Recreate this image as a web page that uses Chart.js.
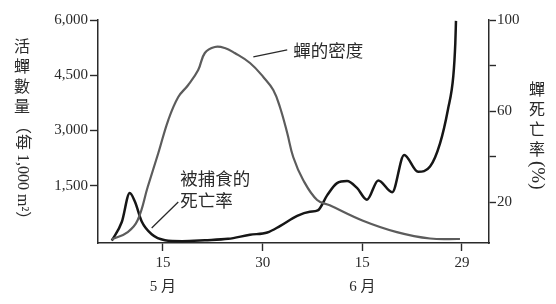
<!DOCTYPE html>
<html>
<head>
<meta charset="utf-8">
<script src="https://cdn.jsdelivr.net/npm/chart.js@4"></script>
<style>
  html, body { margin: 0; padding: 0; background: #fff; }
  canvas { display: block; }
</style>
</head>
<body>
<canvas id="chart" width="556" height="304"></canvas>
<script>
// x = day position (15 = 5/15, 30 = 5/30, 45 = 6/15, 60 = 6/29)
const densityDays = [7.3, 9.7, 11.2, 12.7, 14.3, 15.8, 17.3, 18.8, 20.3, 21.3, 22.8, 24.3, 25.8, 28.1, 30.1, 31.6, 32.6, 33.7, 34.6, 36.1, 38.2, 40.1, 45.1, 50.2, 55.2, 59.7];
const densityValues = [40, 244, 570, 1466, 2389, 3285, 3910, 4235, 4643, 5104, 5267, 5240, 5104, 4833, 4453, 4100, 3638, 2932, 2281, 1656, 1113, 969, 551, 242, 68, 54];

const mortalityDays = [7.3, 8.8, 10.0, 10.8, 11.8, 13.3, 15.3, 17.9, 21.3, 24.8, 28.1, 30.7, 32.6, 35.2, 37.1, 38.3, 39.7, 41.2, 42.7, 44.2, 45.7, 47.4, 49.5, 51.3, 53.4, 55.2, 56.7, 57.9, 58.7, 59.0, 59.1];
const mortalityValues = [3.0, 11.2, 24.0, 20.0, 11.4, 5.8, 3.2, 2.8, 3.2, 3.8, 5.6, 6.6, 9.4, 13.9, 15.7, 16.3, 22.9, 28.3, 29.2, 26.2, 21.0, 29.5, 24.3, 40.7, 33.3, 35.6, 45.8, 60.8, 75.4, 89.9, 99.6];

const xTickValues = [15, 30, 45, 60];
const xTickLabels = [["15", "5 月"], "30", ["15", "6 月"], "29"];
const leftTickValues = [1500, 3000, 4500, 6000];
const rightTickValues = [20, 40, 60, 80, 100];
const rightLabelled = [20, 60, 100];

const leftTitleUpright = ["活", "蟬", "數", "量"];
const leftTitleRotated = "（每 1,000 m²）";
const rightTitleUpright = ["蟬", "死", "亡", "率"];
const rightTitleRotated = "(%)";

const inkColor = "#2a2a2a";
const serif = "'Liberation Serif', 'Noto Sans CJK TC', serif";
const cjk = "'Noto Sans CJK TC', 'Liberation Serif', sans-serif";

const titlesPlugin = {
    id: "titles",
    afterDraw(chart) {
        const ctx = chart.ctx;
        const xs = chart.scales.x, yl = chart.scales.yLeft, yr = chart.scales.yRight;
        ctx.save();
        ctx.fillStyle = inkColor;
        ctx.textAlign = "center";
        ctx.textBaseline = "middle";

        // left axis title
        ctx.font = "16px " + cjk;
        leftTitleUpright.forEach((ch, i) => ctx.fillText(ch, 22, 46 + i * 20));
        ctx.save();
        ctx.translate(22, 118);
        ctx.rotate(Math.PI / 2);
        ctx.textAlign = "left";
        ctx.font = "16px " + serif;
        ctx.fillText(leftTitleRotated, 0, 0);
        ctx.restore();

        // right axis title
        ctx.font = "16px " + cjk;
        rightTitleUpright.forEach((ch, i) => ctx.fillText(ch, 537, 89 + i * 20));
        ctx.save();
        ctx.translate(537, 161);
        ctx.rotate(Math.PI / 2);
        ctx.textAlign = "left";
        ctx.font = "19px " + serif;
        ctx.fillText(rightTitleRotated, 0, 0);
        ctx.restore();

        // curve labels with leader lines (in data coordinates)
        ctx.strokeStyle = inkColor;
        ctx.lineWidth = 1.3;
        ctx.beginPath();
        ctx.moveTo(xs.getPixelForValue(28.6), yl.getPixelForValue(4996));
        ctx.lineTo(xs.getPixelForValue(33.7), yl.getPixelForValue(5186));
        ctx.moveTo(xs.getPixelForValue(13.3), yr.getPixelForValue(8.6));
        ctx.lineTo(xs.getPixelForValue(17.3), yr.getPixelForValue(20.0));
        ctx.stroke();

        ctx.textAlign = "left";
        ctx.font = "17.5px " + cjk;
        ctx.fillText("蟬的密度", xs.getPixelForValue(34.6), yl.getPixelForValue(5186));
        ctx.fillText("被捕食的", xs.getPixelForValue(17.6), yr.getPixelForValue(30.5));
        ctx.fillText("死亡率", xs.getPixelForValue(17.6), yr.getPixelForValue(20.9));
        ctx.restore();
    }
};

const axisLine = { display: true, color: inkColor, width: 1.5 };
const tickGrid = { display: true, drawOnChartArea: false, drawTicks: true, tickLength: 8, tickColor: inkColor, tickWidth: 1.4 };

new Chart(document.getElementById("chart").getContext("2d"), {
    type: "line",
    data: {
        datasets: [{
            label: "蟬的密度",
            data: densityDays.map((d, i) => ({ x: d, y: densityValues[i] })),
            yAxisID: "yLeft",
            borderColor: "#5c5c5c",
            borderWidth: 2.2,
            pointRadius: 0,
            tension: 0.4,
            fill: false,
            clip: false
        }, {
            label: "被捕食的死亡率",
            data: mortalityDays.map((d, i) => ({ x: d, y: mortalityValues[i] })),
            yAxisID: "yRight",
            borderColor: "#161616",
            borderWidth: 2.5,
            pointRadius: 0,
            cubicInterpolationMode: "monotone",
            fill: false,
            clip: false
        }]
    },
    options: {
        responsive: false,
        animation: false,
        events: [],
        layout: { padding: { top: 20, left: 0, right: 0, bottom: 0 } },
        plugins: { legend: { display: false }, tooltip: { enabled: false } },
        scales: {
            x: {
                type: "linear",
                min: 5.22,
                max: 64.07,
                border: axisLine,
                grid: tickGrid,
                afterBuildTicks: axis => { axis.ticks = xTickValues.map(v => ({ value: v })); },
                afterFit: axis => { axis.height = 61; },
                ticks: {
                    color: inkColor,
                    padding: 0,
                    maxRotation: 0,
                    font: { family: serif, size: 15, lineHeight: 1.6 },
                    callback: v => xTickLabels[xTickValues.indexOf(v)]
                }
            },
            yLeft: {
                type: "linear",
                position: "left",
                min: -54,
                max: 6000,
                border: axisLine,
                grid: tickGrid,
                afterBuildTicks: axis => { axis.ticks = leftTickValues.map(v => ({ value: v })); },
                afterFit: axis => { axis.width = 98; },
                ticks: {
                    color: inkColor,
                    padding: 2,
                    font: { family: serif, size: 15 },
                    callback: v => v.toLocaleString("en-US")
                }
            },
            yRight: {
                type: "linear",
                position: "right",
                min: 1.98,
                max: 100,
                border: axisLine,
                grid: { ...tickGrid, tickLength: 7 },
                afterBuildTicks: axis => { axis.ticks = rightTickValues.map(v => ({ value: v })); },
                afterFit: axis => { axis.width = 67; },
                ticks: {
                    color: inkColor,
                    padding: 1,
                    font: { family: serif, size: 15 },
                    callback: v => rightLabelled.includes(v) ? String(v) : ""
                }
            }
        }
    },
    plugins: [titlesPlugin]
});
</script>
</body>
</html>
